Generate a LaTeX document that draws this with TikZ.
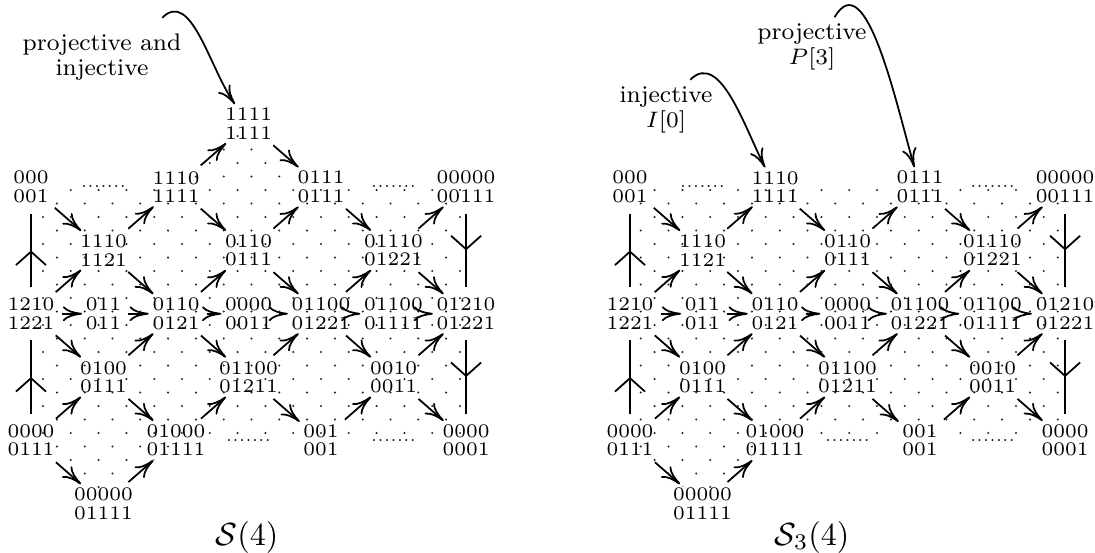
\documentclass[tikz,border=0pt]{standalone}
\usepackage{amsmath,amssymb}
\usetikzlibrary{positioning,arrows.meta,decorations.markings}

\tikzset{
  mod/.style={font=\fontsize{6}{5.8}\selectfont, align=center, inner sep=1pt},
  gap/.style={font=\tiny, inner sep=0pt},
  ar/.style={-{Computer Modern Rightarrow[length=6pt,width=4.6pt]}, line width=0.55pt,
    shorten <=1pt},
  glue/.style={line width=0.65pt, shorten <=2.2pt, shorten >=2.2pt, postaction={decorate},
    decoration={markings, mark=at position 0.5 with
      {\arrow[line width=0.55pt]{Straight Barb[length=4.2pt,width=9.4pt]}}}},
  note/.style={font=\fontsize{7.5}{8}\selectfont, align=center, inner sep=1pt},
  latt/.style={fill=black!85},
}

\begin{document}
\begin{tikzpicture}[x=0.3125pt, y=-0.3125pt, on grid, node distance=19.8pt and 22.66pt]
  \useasboundingbox (0,0) rectangle (1095,552);

  % S(4)
  \node[mod] (l00) at (31,187) {000\\001};
  \node[mod] (l11) [below right=of l00] {1110\\1121};
  \node[mod] (l20) [above right=of l11] {1110\\1111};
  \node[mod] (l3t) [above right=of l20] {1111\\1111};
  \node[mod] (l31) [below right=of l20] {0110\\0111};
  \node[mod] (l40) [above right=of l31] {0111\\0111};
  \node[mod] (l51) [below right=of l40] {01110\\01221};
  \node[mod] (l60) [above right=of l51] {00000\\00111};
  \node[mod] (l02) [below left=of l11] {1210\\1221};
  \node[mod] (l12) [right=of l02] {011\\011};
  \node[mod] (l22) [below right=of l11] {0110\\0121};
  \node[mod] (l32) [right=of l22] {0000\\0011};
  \node[mod] (l42) [below right=of l31] {01100\\01221};
  \node[mod] (l52) [right=of l42] {01100\\01111};
  \node[mod] (l62) [below right=of l51] {01210\\01221};
  \node[mod] (l13) [below right=of l02] {0100\\0111};
  \node[mod] (l33) [below right=of l22] {01100\\01211};
  \node[mod] (l53) [below right=of l42] {0010\\0011};
  \node[mod] (l04) [below left=of l13] {0000\\0111};
  \node[mod] (l24) [below right=of l13] {01000\\01111};
  \node[mod] (l44) [below right=of l33] {001\\001};
  \node[mod] (l64) [below right=of l53] {0000\\0001};
  \node[mod] (l15) [below right=of l04] {00000\\01111};
  \node[gap] (l10) [above=of l11] {.......};
  \node[gap] (l50) [above=of l51] {.......};
  \node[gap] (l34) [below=of l33] {.......};
  \node[gap] (l54) [below=of l53] {.......};

  \path[ar] (l00) edge (l11);
  \path[ar] (l11) edge (l20) edge (l22);
  \path[ar] (l20) edge (l3t) edge (l31);
  \path[ar] (l3t) edge (l40);
  \path[ar] (l31) edge (l40) edge (l42);
  \path[ar] (l40) edge (l51);
  \path[ar] (l51) edge (l60) edge (l62);
  \path[ar] (l02) edge (l11) edge (l12) edge (l13);
  \path[ar] (l12) edge (l22);
  \path[ar] (l22) edge (l31) edge (l32) edge (l33);
  \path[ar] (l32) edge (l42);
  \path[ar] (l42) edge (l51) edge (l52) edge (l53);
  \path[ar] (l52) edge (l62);
  \path[ar] (l13) edge (l22) edge (l24);
  \path[ar] (l33) edge (l42) edge (l44);
  \path[ar] (l53) edge (l62) edge (l64);
  \path[ar] (l04) edge (l13) edge (l15);
  \path[ar] (l24) edge (l33);
  \path[ar] (l44) edge (l53);
  \path[ar] (l15) edge (l24);

  \draw[glue] (l02) -- (l00);
  \draw[glue] (l04) -- (l02);
  \draw[glue] (l60) -- (l62);
  \draw[glue] (l62) -- (l64);

  \node[note] (pil) at (102,57) {projective and\\injective};
  \coordinate (pils) at (160,20);
  \draw[ar] (pils) to[out=45,in=125] (l3t);

  \node (capl) at (247,537) {$\mathcal{S}(4)$};

  % S_3(4)
  \node[mod] (r00) at (630,187) {000\\001};
  \node[mod] (r11) [below right=of r00] {1110\\1121};
  \node[mod] (r20) [above right=of r11] {1110\\1111};
  \node[mod] (r31) [below right=of r20] {0110\\0111};
  \node[mod] (r40) [above right=of r31] {0111\\0111};
  \node[mod] (r51) [below right=of r40] {01110\\01221};
  \node[mod] (r60) [above right=of r51] {00000\\00111};
  \node[mod] (r02) [below left=of r11] {1210\\1221};
  \node[mod] (r12) [right=of r02] {011\\011};
  \node[mod] (r22) [below right=of r11] {0110\\0121};
  \node[mod] (r32) [right=of r22] {0000\\0011};
  \node[mod] (r42) [below right=of r31] {01100\\01221};
  \node[mod] (r52) [right=of r42] {01100\\01111};
  \node[mod] (r62) [below right=of r51] {01210\\01221};
  \node[mod] (r13) [below right=of r02] {0100\\0111};
  \node[mod] (r33) [below right=of r22] {01100\\01211};
  \node[mod] (r53) [below right=of r42] {0010\\0011};
  \node[mod] (r04) [below left=of r13] {0000\\0111};
  \node[mod] (r24) [below right=of r13] {01000\\01111};
  \node[mod] (r44) [below right=of r33] {001\\001};
  \node[mod] (r64) [below right=of r53] {0000\\0001};
  \node[mod] (r15) [below right=of r04] {00000\\01111};
  \node[gap] (r10) [above=of r11] {.......};
  \node[gap] (r50) [above=of r51] {.......};
  \node[gap] (r34) [below=of r33] {.......};
  \node[gap] (r54) [below=of r53] {.......};

  \path[ar] (r00) edge (r11);
  \path[ar] (r11) edge (r20) edge (r22);
  \path[ar] (r20) edge (r31);
  \path[ar] (r31) edge (r40) edge (r42);
  \path[ar] (r40) edge (r51);
  \path[ar] (r51) edge (r60) edge (r62);
  \path[ar] (r02) edge (r11) edge (r12) edge (r13);
  \path[ar] (r12) edge (r22);
  \path[ar] (r22) edge (r31) edge (r32) edge (r33);
  \path[ar] (r32) edge (r42);
  \path[ar] (r42) edge (r51) edge (r52) edge (r53);
  \path[ar] (r52) edge (r62);
  \path[ar] (r13) edge (r22) edge (r24);
  \path[ar] (r33) edge (r42) edge (r44);
  \path[ar] (r53) edge (r62) edge (r64);
  \path[ar] (r04) edge (r13) edge (r15);
  \path[ar] (r24) edge (r33);
  \path[ar] (r44) edge (r53);
  \path[ar] (r15) edge (r24);

  \draw[glue] (r02) -- (r00);
  \draw[glue] (r04) -- (r02);
  \draw[glue] (r60) -- (r62);
  \draw[glue] (r62) -- (r64);

  \node[note] (inj) at (666,110) {injective\\$I[0]$};
  \coordinate (injs) at (688,82);
  \draw[ar] (injs) to[out=45,in=117] (r20);
  \node[note] (proj) at (812,47) {projective\\$P[3]$};
  \coordinate (projs) at (833,20);
  \draw[ar] (projs) to[out=60,in=106] (r40);

  \node (capr) at (812,537) {$\mathcal{S}_3(4)$};

  % dotted background of both meshes
  \begin{scope}
    \clip (l00.center) -- (l20.center) -- (l3t.center) -- (l40.center) -- (l60.center)
      -- (l64.center) -- (l24.center) -- (l15.center) -- (l04.center) -- cycle
      (r00.center) -- (r60.center) -- (r64.center) -- (r24.center)
      -- (r15.center) -- (r04.center) -- cycle;
    \foreach \i in {0,...,74}
      \foreach \j in {-5,...,24}
        {\ifodd\numexpr\i+\j\relax\else
           \fill[latt] (43+13.9*\i,190+13.5*\j) circle[radius=0.36pt];
         \fi}
  \end{scope}
\end{tikzpicture}
\end{document}
